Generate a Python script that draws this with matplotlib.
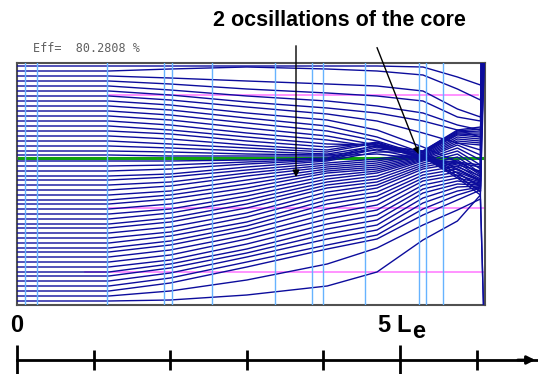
import matplotlib
matplotlib.use("Agg")
from matplotlib import pyplot as plt

# positions along the channel, in units of Le
x_knots = [0.0, 1.2, 2.0, 3.0, 4.05, 4.7, 5.3, 5.75, 6.05]

# trajectories starting above the axis (transverse position, arb. units, 0..242)
upper_tracks = [
    [239, 239, 239, 239, 239, 239, 238, 228, 220],
    [234, 234, 236, 238, 236, 234, 230, 216, 205],
    [229, 229, 227, 224, 221, 219, 214, 196, 188],
    [224, 224, 221, 216, 212, 209, 204, 188, 184],
    [219, 219, 215, 209, 204, 199, 192, 180, 175],
    [214, 214, 210, 203, 197, 192, 184, 175, 168],
    [209, 209, 205, 198, 191, 184, 172, 162, 155],
    [204, 204, 200, 192, 185, 175, 158, 143, 132],
    [199, 199, 195, 187, 179, 168, 152, 136, 124],
    [194, 194, 190, 182, 174, 164, 150, 132, 118],
    [189, 189, 185, 177, 169, 160, 149, 129, 113],
    [184, 184, 180, 172, 165, 158, 148, 127, 110],
    [179, 179, 175, 168, 161, 160, 148, 129, 114],
    [174, 174, 171, 164, 158, 162, 148, 132, 119],
    [169, 169, 166, 160, 155, 163, 148, 135, 124],
    [164, 164, 161, 157, 153, 162, 147, 138, 129],
    [159, 159, 157, 154, 151, 159, 147, 140, 134],
    [154, 154, 153, 151, 150, 155, 146, 142, 138],
    [150, 150, 149, 149, 149, 151, 146, 143, 140],
]
# where each upper trajectory is swept up at the collector
upper_tail_x = [6.10, 6.09, 6.09, 6.08, 6.08, 6.07, 6.07, 6.06, 6.06, 6.07,
                6.08, 6.09, 6.10, 6.06, 6.07, 6.08, 6.09, 6.10, 6.06]

# trajectories starting below the axis
lower_tracks = [
    [144, 144, 144, 145, 147, 160, 154, 175, 178],
    [139, 139, 140, 143, 146, 158, 154, 174, 176],
    [134, 134, 136, 141, 145, 156, 153, 173, 174],
    [129, 129, 131, 138, 144, 153, 153, 172, 172],
    [125, 125, 128, 135, 142, 146, 152, 171, 170],
    [120, 120, 123, 132, 140, 144, 151, 170, 168],
    [115, 115, 119, 129, 138, 142, 150, 168, 166],
    [110, 110, 114, 125, 136, 140, 149, 166, 164],
    [105, 105, 110, 121, 134, 138, 148, 164, 162],
    [101, 101, 106, 117, 132, 136, 147, 162, 160],
    [96, 96, 101, 113, 129, 134, 146, 160, 150],
    [91, 91, 96, 109, 126, 132, 145, 157, 145],
    [86, 86, 92, 105, 123, 129, 144, 154, 140],
    [81, 81, 87, 101, 120, 126, 142, 151, 136],
    [77, 77, 83, 97, 117, 123, 140, 148, 132],
    [72, 72, 78, 92, 113, 120, 138, 145, 130],
    [67, 67, 73, 88, 109, 117, 136, 142, 128],
    [62, 62, 69, 83, 105, 113, 133, 139, 126],
    [57, 57, 64, 79, 101, 109, 130, 136, 125],
    [53, 53, 60, 75, 96, 105, 127, 133, 124],
    [48, 48, 55, 70, 91, 100, 124, 130, 123],
    [43, 43, 50, 66, 86, 95, 120, 127, 122],
    [38, 38, 45, 61, 81, 90, 116, 124, 121],
    [33, 33, 41, 56, 76, 85, 112, 121, 120],
    [29, 29, 37, 52, 71, 80, 107, 118, 119],
    [24, 24, 32, 48, 66, 75, 102, 114, 118],
    [19, 19, 27, 43, 60, 70, 96, 110, 117],
    [14, 14, 22, 38, 56, 66, 90, 105, 115],
    [9, 9, 14, 25, 41, 57, 80, 95, 106],
    [4, 4, 5, 10, 19, 33, 65, 84, 110],
]

# element boundaries (Le) and reference levels
element_edges = [0.10, 0.26, 1.17, 1.92, 2.02, 2.55, 3.37, 3.85, 3.99, 4.54, 5.25, 5.34, 5.56]
axis_level = 147
aperture_levels = [210, 97, 33]
aperture_starts = [1.2, 1.2, 0.89]
aperture_ends = [6.02, 6.11, 6.11]

x_end = 6.11
efficiency = 80.2808

fig = plt.figure(figsize=(5.38, 3.74), dpi=100)
ax = fig.add_axes([17 / 538, 69 / 374, 468 / 538, 242 / 374])

for lev, x0, x1 in zip(aperture_levels, aperture_starts, aperture_ends):
    ax.plot([x0, x1], [lev, lev], color="#ff80ff", lw=1.2, zorder=1)

ax.plot([0, x_end], [axis_level, axis_level], color="#10a010", lw=2.2, zorder=2)

blue = "#0c0c9c"
for tr, tx in zip(upper_tracks, upper_tail_x):
    ax.plot(x_knots + [tx], tr + [242], color=blue, lw=1.0, zorder=3)
for i, tr in enumerate(lower_tracks):
    xs = list(x_knots)
    ys = list(tr)
    if i >= len(lower_tracks) - 2:
        xs.append(6.09)
        ys.append(0)
    ax.plot(xs, ys, color=blue, lw=1.0, zorder=3)

for xe in element_edges:
    ax.axvline(xe, color="#66b3ff", lw=1.0, zorder=4)

ax.set_xlim(0, x_end)
ax.set_ylim(0, 242)
ax.set_xticks([])
ax.set_yticks([])
for sp in ax.spines.values():
    sp.set_color("#505050")
    sp.set_linewidth(1.5)

fig.text(33 / 538, 1 - 48 / 374, f"Eff=  {efficiency} %", family="DejaVu Sans Mono",
         fontsize=8.5, color="#606060", va="center", ha="left")

fig.text(339 / 538, 1 - 20 / 374, "2 ocsillations of the core", family="Liberation Sans",
         fontweight="bold", fontsize=15.5, ha="center", va="center")

# arrows pointing at the core
ax.annotate("", xy=(296, 374 - 180), xytext=(296, 374 - 43), xycoords="figure pixels",
            textcoords="figure pixels",
            arrowprops=dict(arrowstyle="-|>", color="black", lw=1.0, mutation_scale=10))
ax.annotate("", xy=(420, 374 - 157), xytext=(376, 374 - 45), xycoords="figure pixels",
            textcoords="figure pixels",
            arrowprops=dict(arrowstyle="-|>", color="black", lw=1.0, mutation_scale=10))

# length scale below the plot
ax2 = fig.add_axes([17 / 538, 14 / 374, 521 / 538, 0.02])
ax2.set_xlim(0, 521 / 76.6)
ax2.set_ylim(0, 1)
for name in ["top", "left", "right"]:
    ax2.spines[name].set_visible(False)
ax2.spines["bottom"].set_linewidth(2)
ax2.set_yticks([])
ax2.set_xticks([0, 5])
ax2.set_xticks([1, 2, 3, 4, 6], minor=True)
ax2.tick_params(axis="x", which="major", direction="inout", length=22, width=2, labelbottom=False)
ax2.tick_params(axis="x", which="minor", direction="inout", length=14, width=2, labelbottom=False)
ax2.patch.set_visible(False)
ax2.annotate("", xy=(521 / 76.6, 0), xytext=(6.5, 0),
             arrowprops=dict(arrowstyle="-|>", color="black", lw=2, mutation_scale=12),
             annotation_clip=False)

fig.text(17 / 538, 1 - 326 / 374, "0", family="Liberation Sans", fontweight="bold",
         fontsize=17, ha="center", va="center")
fig.text(384 / 538, 1 - 326 / 374, "5", family="Liberation Sans", fontweight="bold",
         fontsize=17, ha="center", va="center")
fig.text(404 / 538, 1 - 326 / 374, "L", family="Liberation Sans", fontweight="bold",
         fontsize=17, ha="center", va="center")
fig.text(419 / 538, 1 - 332 / 374, "e", family="Liberation Sans", fontweight="bold",
         fontsize=17, ha="center", va="center")

fig.savefig("out.png", dpi=100)
